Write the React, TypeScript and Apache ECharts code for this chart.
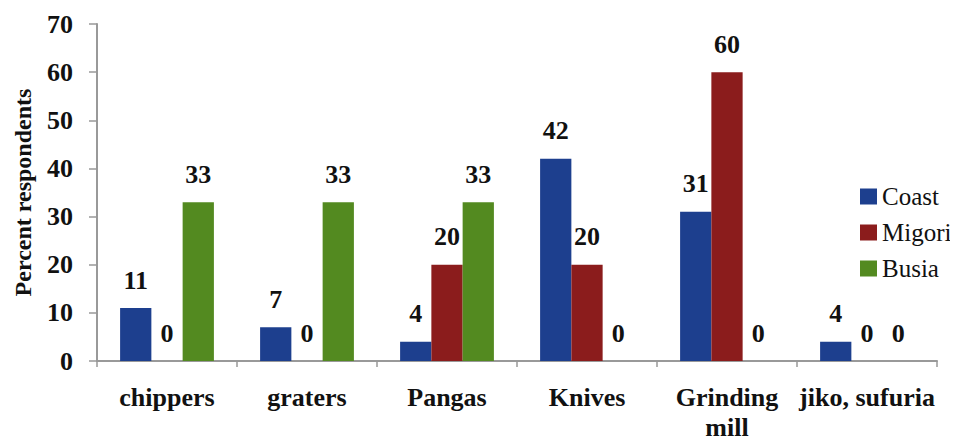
import React, { useEffect, useRef, useState } from "react";
import * as echarts from "echarts";

const categories = ["chippers", "graters", "Pangas", "Knives", "Grinding\nmill", "jiko, sufuria"];
const coast = [11, 7, 4, 42, 31, 4];
const migori = [0, 0, 20, 20, 60, 0];
const busia = [33, 33, 33, 0, 0, 0];
const yTicks = [0, 10, 20, 30, 40, 50, 60, 70];

const FONT = "Liberation Serif";

function buildOption() {
  const label = {
    show: true,
    position: "top" as const,
    distance: 15,
    fontFamily: FONT,
    fontWeight: "bold" as const,
    fontSize: 26,
    color: "#111",
  };
  const mk = (name: string, data: number[], color: string) => ({
    name,
    type: "bar" as const,
    data,
    barGap: "0%",
    barCategoryGap: "33%",
    itemStyle: { color },
    label,
  });
  return {
    animation: false,
    backgroundColor: "#fff",
    textStyle: { fontFamily: FONT },
    grid: { left: 97, right: 21, top: 24, bottom: 86, containLabel: false },
    legend: {
      orient: "vertical",
      left: 855,
      top: 179,
      itemWidth: 17,
      itemHeight: 16,
      itemGap: 11,
      icon: "rect",
      textStyle: { fontFamily: FONT, fontSize: 25, color: "#111", overflow: "none" },
      data: ["Coast", "Migori", "Busia"],
    },
    xAxis: {
      type: "category",
      data: categories,
      axisLine: { lineStyle: { color: "#999", width: 2 } },
      axisTick: { show: true, length: 6, lineStyle: { color: "#999", width: 1.5 } },
      axisLabel: {
        fontFamily: FONT,
        fontWeight: "bold",
        fontSize: 26,
        color: "#111",
        margin: 21,
        lineHeight: 30,
        interval: 0,
      },
    },
    yAxis: {
      type: "value",
      min: yTicks[0],
      max: yTicks[yTicks.length - 1],
      interval: 10,
      name: "Percent respondents",
      nameLocation: "middle",
      nameGap: 62,
      nameTextStyle: { fontFamily: FONT, fontWeight: "bold", fontSize: 24, color: "#111" },
      splitLine: { show: false },
      axisLine: { show: true, lineStyle: { color: "#999", width: 2 } },
      axisTick: { show: true, length: 8, lineStyle: { color: "#999", width: 1.5 } },
      axisLabel: {
        fontFamily: FONT,
        fontWeight: "bold",
        fontSize: 26,
        color: "#111",
        margin: 24,
      },
    },
    series: [
      mk("Coast", coast, "#1d3f8e"),
      mk("Migori", migori, "#8b1c1c"),
      mk("Busia", busia, "#538a20"),
    ],
  };
}

export default function App() {
  const ref = useRef<HTMLDivElement>(null);
  const [tick, setTick] = useState(0);
  useEffect(() => {
    if (!ref.current) return;
    const chart = echarts.init(ref.current, null, { renderer: "svg" });
    chart.setOption(buildOption());
    let alive = true;
    const fonts = (document as any).fonts;
    if (fonts && fonts.load) {
      Promise.all([fonts.load(`bold 26px "${FONT}"`), fonts.load(`25px "${FONT}"`)])
        .then(() => {
          if (!alive) return;
          chart.clear();
          chart.setOption(buildOption());
          setTick(1);
        })
        .catch(() => {});
    }
    return () => {
      alive = false;
      chart.dispose();
    };
  }, []);
  return (
    <div style={{ position: "relative", fontFamily: FONT }} data-ready={tick}>
      <span
        aria-hidden="true"
        style={{ position: "absolute", left: -200, top: 0, fontFamily: FONT, fontWeight: "bold", color: "transparent" }}
      >
        0<span style={{ fontWeight: "normal" }}>0</span>
      </span>
      <div ref={ref} style={{ width: 958, height: 447, margin: -8 }} />
    </div>
  );
}
